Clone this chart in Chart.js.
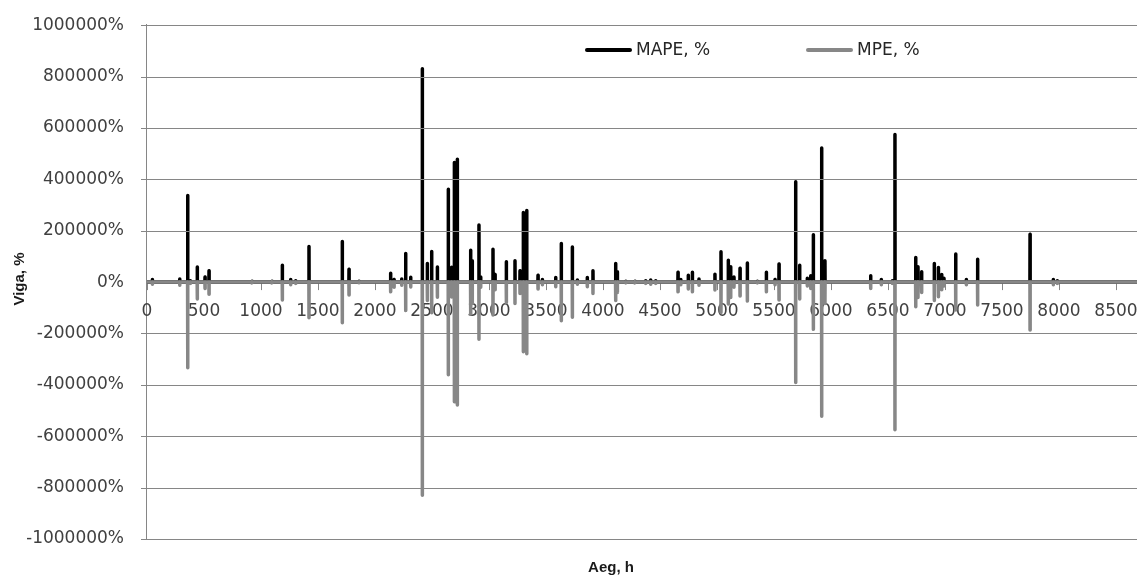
<!DOCTYPE html>
<html>
<head>
<meta charset="utf-8">
<script src="https://cdn.jsdelivr.net/npm/chart.js@4.4.1/dist/chart.umd.min.js"></script>
<style>
html,body{margin:0;padding:0;background:#fff;overflow:hidden}
#wrap{width:1185px;height:578px}
</style>
</head>
<body>
<div id="wrap"><canvas id="c" width="1185" height="578"></canvas></div>
<script>
// hours where the error spikes occur (baseline ~0 elsewhere)
const hours = [0,47,287,357,380,441,509,544,921,1096,1187,1260,1304,1421,1713,1772,1860,
2137,2167,2234,2269,2313,2415,2459,2497,2547,2643,2672,2696,2722,2839,2853,2912,2927,
3035,3053,3152,3228,3272,3301,3331,3430,3468,3585,3634,3731,3775,3862,3912,4111,4126,
4200,4280,4374,4418,4462,4658,4682,4748,4784,4842,4982,5035,5099,5120,5149,5202,5266,
5354,5433,5509,5544,5690,5725,5792,5822,5845,5918,5947,6348,6441,6538,6561,6743,6763,
6795,6906,6942,6971,6991,7094,7187,7286,7746,7950,7985,8760];

const mape = [0,10000,12000,337000,5000,59000,20000,44000,3000,3000,66000,10000,5000,139000,158000,50000,3000,
34000,10000,12000,111000,19000,830000,72000,119000,59000,361000,58000,466000,478000,124000,83000,222000,20000,
128000,30000,79000,83000,44000,271000,279000,27000,10000,18000,150000,137000,8000,18000,44000,72000,40000,
3000,3000,5000,8000,5000,38000,10000,27000,38000,12000,31000,118000,85000,60000,20000,54000,74000,
3000,38000,10000,70000,391000,66000,15000,25000,184000,522000,83000,25000,10000,5000,575000,96000,60000,
40000,72000,57000,30000,15000,109000,10000,89000,186000,10000,5000,0];

const mpe = [0,-8000,-12000,-333000,-5000,-66000,-25000,-47000,-3000,-3000,-70000,-10000,-5000,-139000,-158000,-50000,-3000,
-38000,-20000,-12000,-111000,-19000,-830000,-72000,-119000,-59000,-361000,-58000,-466000,-478000,-124000,-83000,-222000,-20000,
-128000,-30000,-79000,-83000,-44000,-271000,-279000,-27000,-10000,-18000,-150000,-137000,-8000,-18000,-44000,-72000,-40000,
-3000,-3000,-5000,-8000,-5000,-38000,-10000,-27000,-38000,-12000,-31000,-118000,-85000,-60000,-20000,-54000,-74000,
-3000,-38000,-10000,-70000,-391000,-66000,-15000,-25000,-184000,-522000,-83000,-25000,-10000,-5000,-575000,-96000,-60000,
-40000,-72000,-57000,-30000,-15000,-109000,-10000,-89000,-186000,-10000,-5000,0];

const seriesNames = ['MAPE, %','MPE, %'];
const xMin = 0, xMax = 9000, xStep = 500, xLastLabel = 8500;
const yMin = -1000000, yMax = 1000000, yStep = 200000;

const FONT = 'DejaVu Sans';
const GRID = '#868686';

// each hour becomes a narrow spike back to the zero baseline
function spikes(vals){
  const pts = [];
  hours.forEach((h,i)=>{
    if (vals[i] === 0) { pts.push({x:h, y:0}); return; }
    pts.push({x:h-1, y:0}, {x:h, y:vals[i]}, {x:h+1, y:0});
  });
  return pts;
}

// axis line, x tick marks and x labels (x axis sits on y = 0)
const axisLines = {
  id: 'axisLines',
  beforeDatasetsDraw(chart){
    const {ctx, scales:{x, y}} = chart;
    const left = Math.round(x.getPixelForValue(xMin));
    const zero = y.getPixelForValue(0);
    ctx.save();
    ctx.strokeStyle = GRID;
    ctx.lineWidth = 1;
    ctx.beginPath();
    x.ticks.forEach(t=>{
      const px = Math.round(x.getPixelForValue(t.value)) + 0.5;
      ctx.moveTo(px, zero); ctx.lineTo(px, zero + 8);
    });
    ctx.moveTo(left - 0.5, Math.round(y.getPixelForValue(yMax)) - 1);
    ctx.lineTo(left - 0.5, Math.round(y.getPixelForValue(yMin)) + 1);
    ctx.stroke();
    ctx.fillStyle = '#404040';
    ctx.font = '17px "' + FONT + '"';
    ctx.textAlign = 'center';
    ctx.textBaseline = 'middle';
    x.ticks.forEach(t=>{
      if (t.value > xLastLabel) return;
      ctx.fillText(String(t.value), x.getPixelForValue(t.value), zero + 29);
    });
    ctx.restore();
  }
};

// horizontal gridlines, legend and axis titles
const legendAndTitles = {
  id: 'legendAndTitles',
  afterDraw(chart){
    const {ctx, scales:{x, y}} = chart;
    ctx.save();
    const left = Math.round(x.getPixelForValue(xMin));
    const right = Math.round(x.getPixelForValue(xMax));
    ctx.strokeStyle = GRID;
    ctx.lineWidth = 1.2;
    ctx.beginPath();
    y.ticks.forEach(t=>{
      if (t.value === 0) return;
      const py = Math.round(y.getPixelForValue(t.value)) + 0.5;
      ctx.moveTo(left - 6, py); ctx.lineTo(right, py);
    });
    ctx.stroke();

    const items = [{x:587, y:50}, {x:808, y:50}];
    chart.data.datasets.forEach((ds,i)=>{
      const p = items[i];
      ctx.strokeStyle = ds.borderColor;
      ctx.lineWidth = 4;
      ctx.lineCap = 'round';
      ctx.beginPath(); ctx.moveTo(p.x, p.y); ctx.lineTo(p.x+43, p.y); ctx.stroke();
      ctx.fillStyle = '#262626';
      ctx.font = '17px "' + FONT + '"';
      ctx.textBaseline = 'middle';
      ctx.textAlign = 'left';
      ctx.fillText(ds.label, p.x+49, p.y+1);
    });
    ctx.fillStyle = '#1a1a1a';
    ctx.font = 'bold 15px "Liberation Sans"';
    ctx.textAlign = 'center';
    ctx.textBaseline = 'middle';
    ctx.fillText('Aeg, h', 611, 568);
    ctx.translate(20, 279);
    ctx.rotate(-Math.PI/2);
    ctx.fillText('Viga, %', 0, 0);
    ctx.restore();
  }
};

new Chart(document.getElementById('c'), {
  type: 'line',
  data: {
    datasets: [
      { label: seriesNames[0], data: spikes(mape), borderColor: '#000000', borderWidth: 3.5, fill: false,
        pointRadius: 0, tension: 0, borderJoinStyle: 'round', borderCapStyle: 'round', order: 1 },
      { label: seriesNames[1], data: spikes(mpe), borderColor: '#878787', borderWidth: 3.5, fill: false,
        pointRadius: 0, tension: 0, borderJoinStyle: 'round', borderCapStyle: 'round', order: 0 }
    ]
  },
  options: {
    responsive: false,
    animation: false,
    layout: { padding: { left: 27, top: 8, right: 12, bottom: 31 } },
    plugins: { legend: { display: false }, tooltip: { enabled: false } },
    scales: {
      x: {
        type: 'linear', position: 'bottom', min: xMin, max: xMax,
        grid: { display: false },
        border: { display: false },
        ticks: { display: false, stepSize: xStep, autoSkip: false }
      },
      y: {
        type: 'linear', min: yMin, max: yMax,
        afterFit: s => { s.width = 120; },
        grid: { display: false },
        border: { display: false },
        ticks: { stepSize: yStep, padding: 15, color: '#404040',
          font: { family: FONT, size: 17 }, callback: v => v + '%' }
      }
    }
  },
  plugins: [axisLines, legendAndTitles]
});
</script>
</body>
</html>
